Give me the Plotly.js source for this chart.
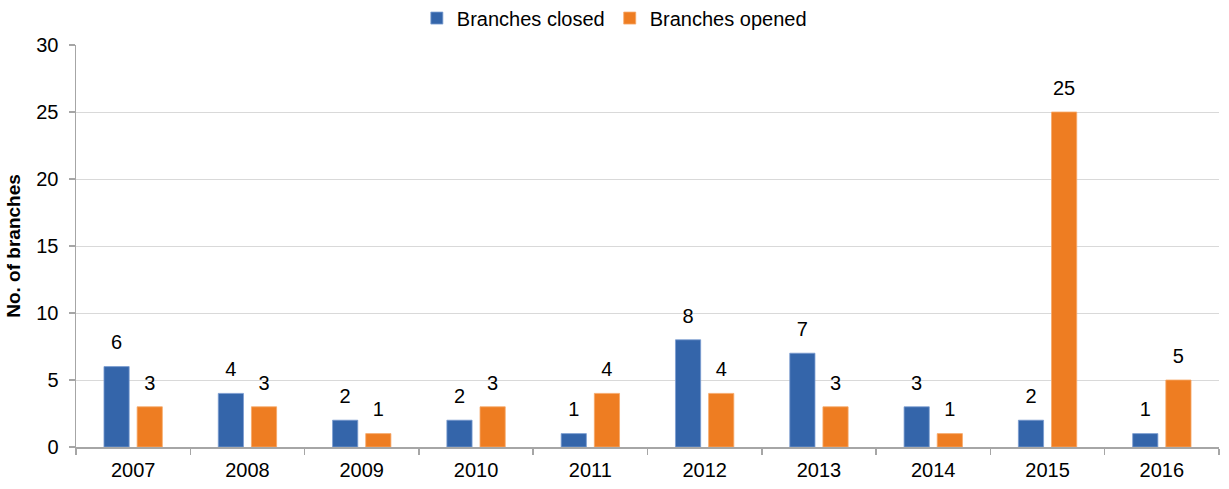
<!DOCTYPE html>
<html>
<head>
<meta charset="utf-8">
<script src="https://cdn.plot.ly/plotly-3.0.1.min.js"></script>
<style>html,body{margin:0;padding:0;background:#fff;}#chart{width:1229px;height:489px;}</style>
</head>
<body>
<div id="chart"></div>
<script>
var years = ["2007","2008","2009","2010","2011","2012","2013","2014","2015","2016"];
var closedVals = [6,4,2,2,1,8,7,3,2,1];
var openedVals = [3,3,1,3,4,4,3,1,25,5];
var yTicks = [0,5,10,15,20,25,30];

var font = {family: "Liberation Sans, Arial, sans-serif", size: 20, color: "#000"};

function barTrace(name, vals, color, edge, grp) {
  return {type: "bar", name: name, x: years, y: vals, offsetgroup: grp,
          marker: {color: color, line: {color: edge, width: 0.8}}, hoverinfo: "x+y"};
}
function labelTrace(vals, grp) {
  return {type: "scatter", mode: "markers+text", x: years, y: vals, offsetgroup: grp,
          text: vals.map(String), textposition: "top center", textfont: font,
          marker: {size: 18, opacity: 0, color: "#fff"}, showlegend: false,
          cliponaxis: false, hoverinfo: "skip"};
}

var traces = [
  barTrace("Branches closed", closedVals, "#3465AA", "#7A9CD0", "a"),
  barTrace("Branches opened", openedVals, "#EE7D22", "#F6A868", "b"),
  labelTrace(closedVals, "a"),
  labelTrace(openedVals, "b")
];

var layout = {
  width: 1229, height: 489,
  margin: {l: 76, r: 10, t: 45, b: 42, autoexpand: false},
  paper_bgcolor: "#fff", plot_bgcolor: "#fff",
  font: font,
  barmode: "group", bargap: 0.42, bargroupgap: 0.24,
  scattermode: "group", scattergap: 0.42,
  showlegend: true,
  legend: {orientation: "h", x: 0.471, xanchor: "center", y: 1.067, yanchor: "middle",
           font: font, traceorder: "normal", itemclick: false, tracegroupgap: 0},
  xaxis: {type: "category", showgrid: false, showline: true, linecolor: "#A6A6A6", linewidth: 1.5,
          ticks: "outside", tickson: "boundaries", ticklen: 6, tickcolor: "#A6A6A6", tickwidth: 1.5,
          tickfont: font, ticklabelstandoff: 4, zeroline: false, fixedrange: true, automargin: false},
  yaxis: {range: [0, 30], tickvals: yTicks, ticktext: yTicks.map(String),
          showgrid: true, gridcolor: "#D9D9D9", gridwidth: 1,
          showline: true, linecolor: "#A6A6A6", linewidth: 1.5,
          ticks: "outside", ticklen: 6, tickcolor: "#A6A6A6", tickwidth: 1.5,
          tickfont: font, ticklabelstandoff: 6, zeroline: false, fixedrange: true, automargin: false,
          title: {text: "<b>No. of branches</b>", font: {family: font.family, size: 19, color: "#000"}, standoff: 10}}
};

Plotly.newPlot("chart", traces, layout, {displayModeBar: false, staticPlot: true});
</script>
</body>
</html>
